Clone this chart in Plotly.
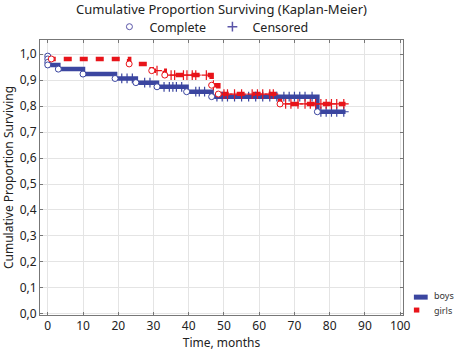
import numpy as np
import plotly.graph_objects as go

# ---- data ----
boys_t = [0, 0, 0, 0, 3, 10, 19.1, 25, 31, 39.4, 46.5, 76.5]
boys_s = [0.992, 0.981, 0.968, 0.958, 0.942, 0.923, 0.906, 0.890, 0.874, 0.855, 0.836, 0.778]
boys_end = 84.5
boys_cens_t = [21, 22.5, 24, 27.5, 29, 33, 34.5, 35.5, 36.5, 38, 42, 43, 44.5,
               48, 49.5, 51, 53, 55, 57, 59, 61, 63, 65, 67, 68.5, 70, 71.5, 73, 75,
               77.5, 79, 80.5, 82, 84]

girls_t = [1, 23.1, 29.5, 33.2, 46.5, 48.4, 65.9]
girls_s = [0.981, 0.962, 0.936, 0.919, 0.880, 0.846, 0.808]
girls_end = 84.5
girls_cens_t = [31, 35, 36, 38.5, 39.5, 41, 42, 45, 47, 50, 51, 53, 55, 58, 59.5, 61,
                63, 64, 67.5, 69, 71, 73, 74.5, 76, 77.5, 79, 80.5, 82, 84]

x_ticks = list(range(0, 101, 10))
y_ticks = [round(v * 0.1, 1) for v in range(11)]

BLUE = "#3b46a0"
RED = "#e8141a"
LEG = "#5a55a8"
FONT = "Noto Sans"


def step_at(times, surv, t):
    idx = np.searchsorted(np.array(times), t, side="right") - 1
    return np.array(surv)[idx]


def curve(times, surv, end, start_from_zero=True):
    xs = list(times) + [end]
    ys = list(surv) + [surv[-1]]
    if start_from_zero and xs[0] > 0:
        xs = [0] + xs
        ys = [ys[0]] + ys
    return xs, ys


fig = go.Figure()

bx, by = curve(boys_t, boys_s, boys_end)
gx, gy = curve(girls_t, girls_s, girls_end)

fig.add_trace(go.Scatter(x=bx, y=by, mode="lines", line=dict(color=BLUE, width=4.5, shape="hv"),
                         showlegend=False, hoverinfo="skip"))
fig.add_trace(go.Scatter(x=gx, y=gy, mode="lines",
                         line=dict(color=RED, width=4.5, shape="hv", dash="8px,8px"),
                         showlegend=False, hoverinfo="skip"))

# censored marks
fig.add_trace(go.Scatter(x=boys_cens_t, y=step_at(boys_t, boys_s, boys_cens_t), mode="markers",
                         marker=dict(symbol="cross-thin", size=7, line=dict(color=BLUE, width=1.2)),
                         showlegend=False, hoverinfo="skip"))
fig.add_trace(go.Scatter(x=girls_cens_t, y=step_at(girls_t, girls_s, girls_cens_t), mode="markers",
                         marker=dict(symbol="cross-thin", size=7, line=dict(color=RED, width=1.2)),
                         showlegend=False, hoverinfo="skip"))
# complete (event) marks
fig.add_trace(go.Scatter(x=boys_t, y=boys_s, mode="markers",
                         marker=dict(symbol="circle", size=6, color="white", line=dict(color=BLUE, width=1)),
                         showlegend=False, hoverinfo="skip"))
fig.add_trace(go.Scatter(x=girls_t, y=girls_s, mode="markers",
                         marker=dict(symbol="circle", size=6, color="white", line=dict(color=RED, width=1)),
                         showlegend=False, hoverinfo="skip"))

# legend entries (top)
fig.add_trace(go.Scatter(x=[None], y=[None], mode="markers", name="Complete",
                         marker=dict(symbol="circle-open", size=6, color=LEG, line=dict(width=1))))
fig.add_trace(go.Scatter(x=[None], y=[None], mode="markers", name="Censored",
                         marker=dict(symbol="cross-thin", size=7, line=dict(color=LEG, width=1.5))))

# bottom-right legend (boys / girls)
fig.add_shape(type="line", xref="paper", yref="paper", x0=1.03, x1=1.068, y0=0.065, y1=0.065,
              line=dict(color=BLUE, width=5))
fig.add_shape(type="line", xref="paper", yref="paper", x0=1.03, x1=1.045, y0=0.018, y1=0.018,
              line=dict(color=RED, width=5))
fig.add_annotation(text="boys", xref="paper", yref="paper", x=1.08, y=0.07, xanchor="left",
                   yanchor="middle", showarrow=False, font=dict(family=FONT, size=9, color="#333"))
fig.add_annotation(text="girls", xref="paper", yref="paper", x=1.08, y=0.018, xanchor="left",
                   yanchor="middle", showarrow=False, font=dict(family=FONT, size=9, color="#333"))

axis_common = dict(showgrid=True, gridcolor="#e4e4e4", gridwidth=1, zeroline=False,
                   showline=True, linecolor="#777", linewidth=1, mirror="ticks",
                   ticks="inside", ticklen=3, tickcolor="#777",
                   tickfont=dict(family=FONT, size=12, color="#222"))

fig.update_layout(
    width=459, height=352,
    margin=dict(l=40, r=56, t=40, b=37, autoexpand=False),
    paper_bgcolor="white", plot_bgcolor="white",
    separators=",.",
    font=dict(family=FONT, color="#222"),
    title=dict(text="Cumulative Proportion Surviving (Kaplan-Meier)", x=0.5, xref="paper",
               y=0.972, yanchor="middle", font=dict(family=FONT, size=13, color="#222")),
    legend=dict(orientation="h", x=0.475, xanchor="center", y=1.047, yanchor="middle",
                font=dict(family=FONT, size=12.5, color="#222"), itemwidth=30,
                entrywidth=58, bgcolor="rgba(0,0,0,0)"),
    xaxis=dict(range=[-2.2, 100.8], tickvals=x_ticks, tickformat="d",
               title=dict(text="Time, months", font=dict(family=FONT, size=12), standoff=2),
               **axis_common),
    yaxis=dict(range=[-0.004, 1.054], tickvals=y_ticks, tickformat=".1f",
               title=dict(text="Cumulative Proportion Surviving", font=dict(family=FONT, size=12),
                          standoff=4),
               **axis_common),
)

fig.write_html("out.html")
